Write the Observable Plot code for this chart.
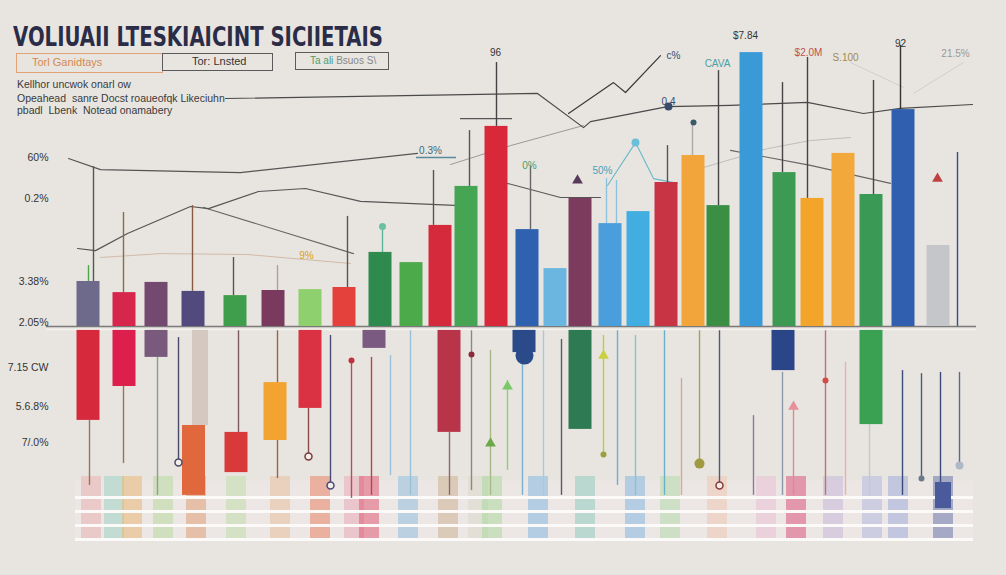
<!DOCTYPE html>
<html><head><meta charset="utf-8">
<script src="https://cdn.jsdelivr.net/npm/d3@7"></script>
<script src="https://cdn.jsdelivr.net/npm/@observablehq/plot@0.6"></script>
<style>
body{margin:0;background:#e8e5e0;font-family:"Liberation Sans",Arial,sans-serif;}
#wrap{position:relative;width:1006px;height:575px;overflow:hidden;background:#e8e5e0;}
#chart{position:absolute;left:0;top:0;}
#title{position:absolute;left:13px;top:23px;font:bold 27px/27px "DejaVu Sans",sans-serif;color:#2b2d48;white-space:nowrap;transform-origin:0 0;}
.box{position:absolute;border:1.5px solid #5a5a5a;font-size:11px;color:#333;box-sizing:border-box;white-space:nowrap;}
.sub{position:absolute;left:17px;font-size:10.5px;line-height:12px;color:#3a3a3a;white-space:nowrap}
</style></head>
<body>
<div id="wrap">
  <div id="chart"></div>
  <div id="title">VOLIUAII LTESKIAICINT SICIIETAIS</div>
  <div class="box" style="left:16px;top:53px;width:147px;height:20px;border-color:#e2a277;color:#d4894f;padding-left:15px;line-height:17px;">Torl Ganidtays</div>
  <div class="box" style="left:162px;top:53px;width:111px;height:18px;padding-left:29px;line-height:15px;">Tor: Lnsted</div>
  <div class="box" style="left:295px;top:52px;width:94px;height:18px;padding-left:14px;line-height:15px;font-size:10px;"><span style="color:#4f9d6c">Ta ali</span> <span style="color:#888">Bsuos S\</span></div>
  <div class="sub" style="top:78px">Kellhor uncwok onarl ow</div>
  <div class="sub" style="top:92px">Opeahead&nbsp; sanre Docst roaueofqk Likeciuhn</div>
  <div class="sub" style="top:104px">pbadl&nbsp; Lbenk&nbsp; Notead onamabery</div>
</div>
<script>
// ---------- data ----------
// period slots of the upward / main bars
const slots = [8.8,12.4,15.6,19.3,23.5,27.3,31.0,34.4,38.0,41.1,44.0,46.6,49.6,52.7,55.5,58.0,61.0,63.8,66.6,69.3,71.8,75.1,78.4,81.2,84.3,87.1,90.3,93.8];
const upValues = [15,11.3,14.7,11.7,10.3,12,12.3,13,24.7,21.3,33.7,46.7,66.7,32.3,19.3,42.7,34.3,38.3,48,57,40.3,91.3,51.3,42.7,57.7,44,72.3,27];
const upColors = ["#6e6a8c","#d6264c","#74496f","#524a7c","#3f9e4c","#7a3a5e","#8fd06e","#e5413c","#2f8a4e","#4caa4a","#d42a3c","#45a552","#d8283a","#2e62b0","#6ab6e0","#7c3a5c","#4a9edc","#42ade0","#c83444","#f2a53a","#3b8f45","#3a9ad8","#3d9a52","#f2a52a","#f2a83a","#3a9a55","#2f5fae","#c4c6ca"];

// downward / floating bars
const downSlots = [8.8,12.4,15.6,20.0,19.35,23.6,27.5,31.0,37.4,44.9,52.4,58.0,78.3,87.1,94.3];
const downFrom  = [-1.3,-1.3,-1.3,-1.3,-33,-35.3,-18.7,-1.3,-1.3,-1.3,-1.3,-1.3,-1.3,-1.3,-52];
const downTo    = [-31.3,-20,-10.3,-33,-56.3,-48.7,-38,-27.3,-7.3,-35.3,-8.7,-34.3,-14.7,-32.7,-60.7];
const downColors = ["#d62a3c","#dc1f4c","#7a5a7c","#cdbdb5","#e0683c","#d83a3a","#f2a330","#da3243","#7a5a80","#b83448","#2a4a8a","#2e7a52","#2a4688","#3aa052","#4a5a9a"];

// thin stems (lollipop sticks)
const stemSlots = [9.3,8.8,12.3,19.2,23.3,27.7,34.7,38.2,43.3,46.9,49.6,53.0,60.6,61.6,66.7,69.2,71.8,78.2,80.7,87.3,90.0,95.7,
  8.9,12.3,15.7,17.8,23.8,27.7,30.8,33.0,35.1,37.1,39.0,41.0,44.9,47.1,49.0,50.7,52.2,54.3,56.1,60.3,61.7,63.5,66.4,68.1,69.9,71.9,75.3,78.2,79.3,82.5,84.5,86.9,90.2,92.1,94.0,95.9];
const stemFrom = [15,15,11.3,11.7,10.3,12,13,24.7,33.7,46.7,66.7,32.3,34.3,34.3,48,57,40.3,51.3,42.7,44,72.3,0,
  -31.3,-20,-10.3,-3.7,-1.3,-1.3,-27.3,-3,-10.7,-10.3,-9.7,-1.3,-35.3,-1.3,-8,-18,-9.7,-1.3,-4.3,-3,-1.3,-3,-1.3,-17.3,-1.3,-1.3,-29.7,-15.3,-26.7,-1.3,-12,-32.7,-14.7,-15.7,-15.3,-15.3];
const stemTo = [53.3,20.3,38,40.3,23,20.3,36.7,32.7,52,65.3,88,53.3,49.3,48.7,60.3,68,85.3,81.3,89.7,82,93.7,58,
  -53,-45.7,-56.3,-45.3,-35.3,-50.7,-43.3,-53,-57.3,-56.3,-49.7,-56.3,-56.3,-54.7,-56.3,-48,-56.3,-56.3,-56.3,-43,-53,-56.3,-56.3,-56.3,-45.7,-53,-56.3,-56.3,-56.3,-56.3,-56.3,-56.3,-56.3,-50.7,-52,-46.3];
const stemColors = ["#555","#4aa84a","#8a6a4a","#8a5a40","#555","#b89aa0","#555","#5ab89a","#555","#555","#444","#666","#8cc4e0","#8cc4e0","#555","#aaa","#444","#444","#444","#444","#333","#3a4a8a",
  "#a0705a","#a0705a","#8aa08a","#4a4a6a","#7a5a5a","#a0604a","#8a4a4a","#4a4a7a","#c04a5a","#c0404a","#9ac0d8","#9ac0d8","#8a6a6a","#8a8a7a","#a8b888","#8ad07a","#7ab0d0","#a8c8e0","#5a5a6a","#b8d040","#6aaed0","#8ac0d8","#6ab0c8","#d8a890","#a0a060","#4a5a7a","#8a7aa0","#8a9aa8","#e08a90","#c07070","#eab0b0","#c0c8c8","#3a4a7a","#4a5a7a","#3a4a7a","#5a6a8a"];

// dots on stems
const dotSlots  = [52.4,38.2,66.8,69.3,63.5,47.1,35.1,82.5,60.3,69.9,92.1,95.9];
const dotValues = [-9.7,33.3,73.3,68,61.3,-9.3,-11.3,-18,-42.7,-45.7,-50.7,-46.3];
const dotColors = ["#2a4a8a","#6ac0a0","#3a4a6a","#3a5a6a","#6ac0d8","#8a2a3a","#c03040","#d04a4a","#9aa040","#a09a40","#6a7a8a","#b0b8c8"];
const dotSizes  = [9,3.5,4,3,4,3,3,3,3,5,3,4];
const ringSlots  = [17.8,30.8,33.0,71.9];
const ringValues = [-45.3,-43.3,-53,-53];
const ringColors = ["#4a4a6a","#7a3a3a","#4a4a7a","#8a3a3a"];
const arrowSlots  = [49.0,50.7,60.3,79.3,57.7,93.7];
const arrowValues = [-39,-20,-9.7,-26.7,48.7,49.3];
const arrowColors = ["#6aa84a","#7ac86a","#c8d040","#e8909a","#5a3a5a","#c04040"];

// trend lines [slot, value]
const trendA = [[22.5,76],[53.7,77.7],[58.3,66.3],[59.0,68.3],[66.7,73.3],[73,73.7],[80.7,74.7],[86.3,71],[90,72.7],[97.2,74]];
const trendZig = [[56.8,71],[61.3,81.3],[62.5,78],[66,90.3]];
const trendB = [[6.8,56],[10.0,52.3],[24,51.3],[41.7,57.7]];
const trendC = [[7.7,26],[9.5,25.3],[12.7,31],[19,40],[20.8,39.3],[25.8,45],[30.5,46],[36,41.7],[46,40.3]];
const trendD = [[20.3,39.7],[35.3,24.3]];
const trendE = [[45,54],[51,60.3],[58.3,67]];
const trendF = [[50.7,47.7],[56,43],[60,43]];
const trendG = [[60.7,47],[63.5,61.3],[65.3,49.3],[67.7,47.7]];
const trendH = [[10,23],[16,24.3],[24.7,24],[35,21]];
const trendI = [[70,52.7],[76.7,59.3],[81,62],[85,63]];
const trendJ = [[73,58.7],[81,53.7],[89,47.7]];
const leaderK = [[85,88],[90.3,79.7]];
const leaderL = [[96.3,88],[91.3,77.7]];

// annotations
const noteText  = ["96","0.3%","9%","0%","50%","c%","0.4","CAVA","$7.84","$2.0M","S.100","92","21.5%"];
const noteSlot  = [49.5,43,30.6,52.9,60.2,67.3,66.8,71.7,74.5,80.8,84.5,90,95.5];
const noteValue = [91.3,58.7,23.7,53.7,52,90.3,75,87.7,97,91.3,89.7,94.3,91];
const noteColors = ["#333","#3a6a7a","#d8a020","#4a9a6a","#4aa0b8","#3a4a6a","#3a4a6a","#4aa0a8","#333","#c05050","#a08a50","#333","#999"];

// y-axis tick labels
const yTickValues = [56.3,42.7,15,1.3,-13.7,-26.7,-38.7];
const yTickLabels = ["60%","0.2%","3.38%","2.05%","7.15 CW","5.6.8%","7/.0%"];

// faded bottom strip
const bandSlots = [9.1,11.4,13.2,16.3,19.6,23.6,28.0,32.0,35.4,36.9,40.8,44.8,47.8,49.2,53.8,58.5,63.5,67.0,71.7,76.6,79.6,83.3,87.2,89.8,94.3];
const bandColors = ["#e8a8a8","#90d0c0","#e8b060","#b0d890","#e09060","#b8dca0","#e8b890","#e87050","#e8a0b0","#e04060","#80b8e0","#c8a880","#d8d8c8","#a0d890","#70b0e0","#80c8b8","#70b0e0","#a8d8a0","#f0c0a8","#e8b8d0","#d83868","#c0b0d8","#a8b0e0","#90a0d8","#5060a0"];
const bandRows = [-57,-61.7,-66.3,-71];

// ---------- build ----------
const idx = n => d3.range(n);
const half = 1.15;
const lineMark = (pts, stroke, w, op=1) => Plot.line(pts, {x: d=>d[0], y: d=>d[1], stroke, strokeWidth: w, strokeOpacity: op});

const chart = Plot.plot({
  width: 1006, height: 575,
  marginLeft: 52, marginRight: 0, marginTop: 0, marginBottom: 0,
  style: {background: "transparent", fontFamily: "Liberation Sans, Arial, sans-serif", color: "#333"},
  x: {domain: [5.2, 100.6], axis: null},
  y: {domain: [-83, 108.67], axis: null},
  color: {type: "identity"},
  r: {type: "identity"},
  marks: [
    // bottom strip
    Plot.rectY([0], {x1: 7.5, x2: 97.3, y1: -51.5, y2: -71, fill: "#efe6e6", fillOpacity: 0.6}),
    Plot.rectY(idx(bandSlots.length), {x1: i=>bandSlots[i]-1.0, x2: i=>bandSlots[i]+1.0, y1: -50, y2: -71, fill: i=>bandColors[i], fillOpacity: 0.45}),
    Plot.ruleY(bandRows, {x1: 7.5, x2: 97.3, stroke: "#fbfaf8", strokeWidth: 3}),
    // trend lines
    lineMark(trendH, "#c8a890", 1, 0.7),
    lineMark(trendI, "#bdbdbd", 1),
    lineMark(leaderK, "#cfcfcf", 1),
    lineMark(leaderL, "#cfcfcf", 1),
    lineMark(trendE, "#9a9a9a", 1),
    lineMark(trendD, "#666", 1.1),
    lineMark(trendB, "#555", 1.2),
    lineMark(trendC, "#555", 1.2),
    lineMark(trendF, "#555", 1.1),
    lineMark(trendJ, "#666", 1.1),
    lineMark(trendG, "#6ab8c8", 1.1),
    lineMark(trendA, "#4a4a4a", 1.2),
    lineMark(trendZig, "#3a3a3a", 1.2),
    Plot.ruleY([69.3], {x1: 46, x2: 51.2, stroke: "#555", strokeWidth: 1.2}),
    Plot.ruleY([56.3], {x1: 41.6, x2: 45.6, stroke: "#5a8a9a", strokeWidth: 1.5}),
    // stems
    Plot.ruleX(idx(stemSlots.length), {x: i=>stemSlots[i], y1: i=>stemFrom[i], y2: i=>stemTo[i], stroke: i=>stemColors[i], strokeWidth: 1.4}),
    // baseline
    Plot.ruleY([0], {x1: 4.6, x2: 97.6, stroke: "#7a7a7a", strokeWidth: 1.6}),
    Plot.ruleY([-1], {x1: 4.6, x2: 97.6, stroke: "#f4f2ee", strokeWidth: 1.5}),
    // upward bars
    Plot.rectY(idx(slots.length), {x1: i=>slots[i]-half, x2: i=>slots[i]+half, y1: 0, y2: i=>upValues[i], fill: i=>upColors[i]}),
    // downward bars
    Plot.rectY(idx(downSlots.length), {x1: i=>downSlots[i]-(i===3||i===14?0.8:half), x2: i=>downSlots[i]+(i===3||i===14?0.8:half), y1: i=>downFrom[i], y2: i=>downTo[i], fill: i=>downColors[i], fillOpacity: i=>i===3?0.75:1}),
    // dots
    Plot.dot(idx(dotSlots.length), {x: i=>dotSlots[i], y: i=>dotValues[i], r: i=>dotSizes[i], fill: i=>dotColors[i]}),
    Plot.dot(idx(ringSlots.length), {x: i=>ringSlots[i], y: i=>ringValues[i], r: 3.5, stroke: i=>ringColors[i], strokeWidth: 1.5, fill: "#f2efea"}),
    Plot.dot(idx(arrowSlots.length), {x: i=>arrowSlots[i], y: i=>arrowValues[i], r: 4, symbol: "triangle", fill: i=>arrowColors[i]}),
    // annotations
    Plot.text(idx(noteText.length), {x: i=>noteSlot[i], y: i=>noteValue[i], text: i=>noteText[i], fill: i=>noteColors[i], fontSize: 10}),
    // y axis
    Plot.axisY(yTickValues, {anchor: "left", tickSize: 0, tickPadding: 4, label: null, fontSize: 10.5, tickFormat: d => yTickLabels[yTickValues.indexOf(d)]})
  ]
});
document.getElementById("chart").appendChild(chart);

// fit title to reference width
const t = document.getElementById("title");
const w = t.getBoundingClientRect().width;
t.style.transform = `scaleX(${370 / w})`;
</script>
</body></html>
